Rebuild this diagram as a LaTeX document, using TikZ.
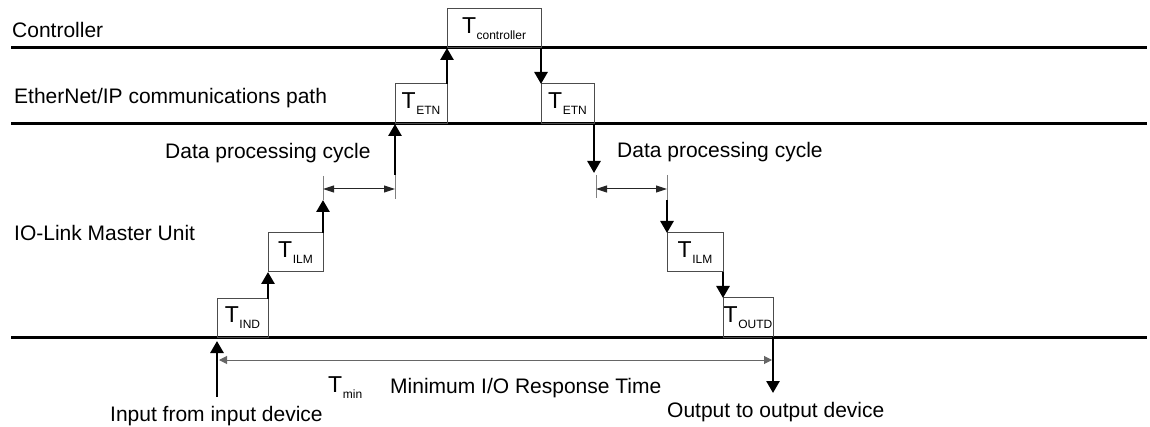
\documentclass[tikz,border=0pt]{standalone}
\usepackage{fontspec}
\setmainfont{Liberation Sans}
\usetikzlibrary{arrows.meta}
\newcommand\Tsb[1]{{\fontsize{23}{23}\selectfont T}\kern0.6pt\raisebox{-6pt}{\fontsize{12}{12}\selectfont #1}}
\begin{document}
\begin{tikzpicture}[x=1pt,y=-1pt,
  lane/.style={line width=3pt,black},
  tbox/.style={draw=black!70,line width=1pt,inner sep=0pt,outer sep=0pt,anchor=north west},
  bigarrow/.style={line width=2.7pt,black,-{Triangle[width=13pt,length=12pt]}},
  dimarrow/.style={line width=1pt,black!85,{Triangle[width=7pt,length=11pt]}-{Triangle[width=7pt,length=11pt]}},
  tminarrow/.style={line width=1pt,black!60,{Triangle[width=8pt,length=8pt]}-{Triangle[width=8pt,length=8pt]}},
  tick/.style={line width=0.8pt,black!50},
  lbl/.style={inner sep=0pt,anchor=base west,font=\fontsize{21}{25}\selectfont}]
\useasboundingbox (0,0) rectangle (1150,427);
% lanes
\coordinate (l1a) at (11,48);  \coordinate (l1b) at (1147,48);
\coordinate (l2a) at (11,124); \coordinate (l2b) at (1147,124);
\coordinate (l3a) at (11,337); \coordinate (l3b) at (1147,337);
\draw[lane] (l1a) -- (l1b);
\draw[lane] (l2a) -- (l2b);
\draw[lane] (l3a) -- (l3b);
% boxes
\node[tbox,minimum width=51pt,minimum height=38pt] (ind) at (217,299) {\Tsb{IND}};
\node[tbox,minimum width=55pt,minimum height=39pt] (ilmL) at (268,233) {\Tsb{ILM}};
\node[tbox,minimum width=52pt,minimum height=40pt] (etnL) at (395,84) {\Tsb{ETN}};
\node[tbox,minimum width=94pt,minimum height=39pt] (ctrl) at (447,9) {\Tsb{controller}};
\node[tbox,minimum width=53pt,minimum height=40pt] (etnR) at (541,84) {\Tsb{ETN}};
\node[tbox,minimum width=56pt,minimum height=39pt] (ilmR) at (667,233) {\Tsb{ILM}};
\node[tbox,minimum width=50pt,minimum height=39pt] (outd) at (723,298) {\Tsb{OUTD}};
% tick coordinates
\coordinate (tL1t) at (323,176); \coordinate (tL1b) at (323,200); \coordinate (tL1m) at (323,189);
\coordinate (tL2t) at (395,175); \coordinate (tL2b) at (395,199); \coordinate (tL2m) at (395,189);
\coordinate (tR1t) at (596,175); \coordinate (tR1b) at (596,198); \coordinate (tR1m) at (596,189);
\coordinate (tR2t) at (667,175); \coordinate (tR2b) at (667,200); \coordinate (tR2m) at (667,189);
\coordinate (aR1) at (594,173);
\coordinate (inS) at (217,397); \coordinate (inE) at (217,341);
\coordinate (outE) at (773,393);
\coordinate (tmA) at (219,360); \coordinate (tmB) at (772,360);
% ticks
\draw[tick] (tL1t) -- (tL1b);
\draw[tick] (tL2t) -- (tL2b);
\draw[tick] (tR1t) -- (tR1b);
\draw[tick] (tR2t) -- (tR2b);
% thick arrows
\draw[bigarrow] (inS) -- (inE);
\draw[bigarrow] (ind.north east) -- (ind.north east |- ilmL.south);
\draw[bigarrow] (ilmL.north east) -- (tL1b);
\draw[bigarrow] (tL2t) -- (tL2t |- etnL.south);
\draw[bigarrow] (etnL.north east) -- (etnL.north east |- ctrl.south);
\draw[bigarrow] (ctrl.south east) -- (ctrl.south east |- etnR.north);
\draw[bigarrow] (etnR.south east) -- (aR1);
\draw[bigarrow] (tR2b) -- (tR2b |- ilmR.north);
\draw[bigarrow] (ilmR.south east) -- (ilmR.south east |- outd.north);
\draw[bigarrow] (outd.south east) -- (outE);
% dimension arrows
\draw[dimarrow] (tL1m) -- (tL2m);
\draw[dimarrow] (tR1m) -- (tR2m);
\draw[tminarrow] (tmA) -- (tmB);
% labels
\node[lbl] (lc) at (12,37.3) {Controller};
\node[lbl] (le) at (14,104) {EtherNet/IP communications path};
\node[lbl] (li) at (14,240.7) {IO-Link Master Unit};
\node[lbl] (dpl) at (165,159) {Data processing cycle};
\node[lbl] (dpr) at (617,157.3) {Data processing cycle};
\node[inner sep=0pt,anchor=base west] (tmin) at (328,392) {\Tsb{min}};
\node[lbl] (mirt) at (390,393) {Minimum I/O Response Time};
\node[lbl] (inl) at (110,421.7) {Input from input device};
\node[lbl] (outl) at (667,417) {Output to output device};
\end{tikzpicture}
\end{document}
